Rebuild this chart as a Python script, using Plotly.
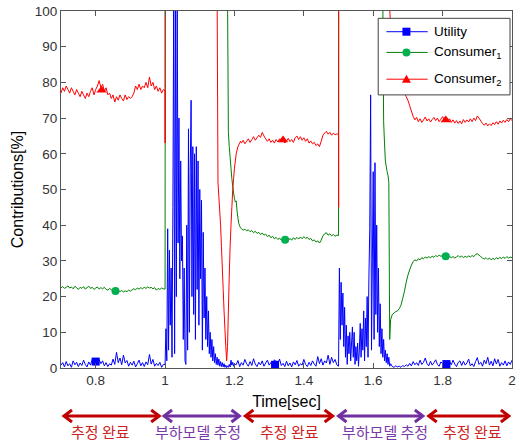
import numpy as np
import plotly.graph_objects as go

# ---------------- data ----------------
# Each series is stored as segments: (start time [s], sample step [s], values [%]).
# Values of 105 stand for "off the top of the 0-100 % scale".

# Utility
util_a_t0, util_a_dt = 0.700, 0.005
util_a = [0.8, 1.5, 0.3, 1.8, 0.6, 1.2, 0.2, 2.0, 0.9, 1.6,
          0.4, 1.4, 0.7, 2.2, 1.0, 0.3, 1.7, 0.8, 2.4, 1.1,
          2.6, 1.8, 2.3, 1.2, 2.0, 0.6, 1.5, 0.4, 1.2, 0.8,
          2.5, 1.0, 4.4, 1.5, 2.8, 0.9, 3.6, 1.4, 2.1, 0.5,
          1.6, 0.8, 1.9, 0.3, 1.2, 2.2, 0.6, 1.5, 0.4, 1.7,
          0.9, 3.8, 1.1, 2.4, 0.5, 1.3, 0.7, 1.6, 0.2, 1.0]
util_b_t0, util_b_dt = 1.000, 0.0025
util_b = [1.0, 11, 2, 39, 5, 33, 12, 28, 3, 45,
          105, 4, 105, 20, 105, 35, 70, 25, 58, 30,
          37, 8, 28, 2, 1, 40, 5, 67, 10, 55,
          75, 20, 62, 15, 60, 8, 62, 22, 58, 12,
          50, 25, 47, 5, 38, 14, 28, 8, 20, 6,
          16, 4, 10, 3, 8, 2, 6, 1.5, 4, 1,
          3, 0.8, 2.5, 0.5, 1.8, 0.4, 1.5, 0.3, 1.2, 0.2,
          0.8, 0.1, 0.6, 0.2, 1.0, 0.3, 2.2, 0.8, 1.6, 0.5, 1.2]
util_c_t0, util_c_dt = 1.205, 0.005
util_c = [0.9, 2.1, 0.4, 1.5, 0.8, 2.4, 1.2, 0.5, 1.8, 0.7,
          2.6, 1.1, 0.4, 1.6, 0.9, 2.0, 0.5, 1.4, 2.2, 0.8,
          1.5, 0.6, 2.3, 1.8, 1.2, 2.5, 0.7, 1.3, 0.4, 1.9,
          0.6, 1.4, 0.3, 1.7, 0.9, 2.1, 0.5, 1.2, 0.8, 2.4,
          1.0, 0.4, 1.6, 0.7, 2.0, 1.1, 0.5, 3.2, 1.2, 2.6,
          0.8, 2.0, 1.4, 3.6, 1.0, 3.0, 1.5, 2.4, 0.9]
util_d_t0, util_d_dt = 1.500, 0.0025
util_d = [0.5, 28, 8, 24, 12, 21, 6, 17, 3, 12,
          1, 9, 4, 10, 2, 7, 11.5, 3, 10, 1,
          6, 2, 7, 0.5, 5, 12.5, 3, 11, 5, 16,
          2, 14, 6, 20, 3, 25, 39, 76.5, 5, 30,
          55, 8, 57.5, 15, 40, 10, 28, 6, 18, 4,
          11, 3, 8, 2, 5, 1.5, 4, 1, 3, 0.5, 1.2]
util_e_t0, util_e_dt = 1.655, 0.005
util_e = [0.4, 0.2, 0.6, 0.3, 0.5, 0.2, 0.7, 0.4, 0.9, 0.5,
          1.3, 0.6, 1.8, 0.9, 1.5, 0.7, 2.2, 1.0, 1.6, 2.8,
          1.2, 0.6, 1.9, 0.8, 1.5, 2.3, 1.0, 0.5, 1.7, 1.2,
          2.0, 1.5, 0.7, 1.8, 0.9, 2.2, 1.1, 0.4, 1.6, 2.0,
          0.7, 1.9, 0.8, 1.4, 2.5, 0.6, 1.2, 0.4, 1.8, 2.9,
          1.0, 1.6, 0.5, 2.2, 1.2, 3.0, 0.8, 1.9, 0.6, 2.6,
          1.1, 2.4, 0.5, 1.5, 0.8, 2.0, 0.6, 1.7, 1.0, 2.2]

# Consumer 1
c1_a_t0, c1_a_dt = 0.700, 0.005
c1_a = [22.5, 22.8, 22.3, 22.6, 23.0, 22.4, 22.7, 22.2, 22.9, 22.5,
        22.0, 22.6, 22.3, 22.8, 22.1, 22.5, 22.9, 22.3, 22.6, 22.0,
        22.4, 22.7, 22.1, 22.5, 22.2, 22.6, 22.0, 21.8, 22.3, 21.9,
        21.6, 21.9, 21.5, 21.8, 21.4, 21.7, 21.3, 21.6, 21.4, 21.8,
        21.5, 21.9, 22.2, 21.9, 22.4, 22.1, 22.5, 22.2, 22.6, 22.3,
        22.7, 22.4, 22.6, 22.2, 22.5, 21.8, 22.3, 22.0, 22.4, 22.2]
c1_b_t0, c1_b_dt = 1.000, 0.0004
c1_b = [22.1, 105]
c1_c_t0, c1_c_dt = 1.180, 0.0025
c1_c = [105, 66, 62, 59, 56, 53, 51, 49, 47.5, 46.5, 46.8, 44, 42, 40.5, 39.8, 39.3]
c1_d_t0, c1_d_dt = 1.220, 0.005
c1_d = [39.0, 38.6, 38.9, 38.4, 38.7, 38.2, 38.5, 37.9, 38.3, 37.7,
        38.0, 37.4, 37.8, 37.2, 37.5, 36.8, 37.2, 36.5, 36.9, 36.2,
        36.6, 36.0, 36.4, 35.8, 36.2, 35.7, 36.1, 35.6, 36.3, 35.8,
        36.5, 36.0, 36.6, 36.1, 36.7, 36.2, 36.8, 36.3, 36.6, 36.0,
        36.3, 35.6, 35.9, 35.3, 35.6, 35.0, 35.8, 37.0, 37.6, 37.9,
        37.2, 37.6, 37.0, 37.4, 36.9, 37.2]
c1_e_t0, c1_e_dt = 1.500, 0.0004
c1_e = [37.1, 105]
c1_f_t0, c1_f_dt = 1.6275, 0.0025
c1_f = [105, 69, 63, 58, 56.5, 55, 54, 52, 8]
c1_g_t0, c1_g_dt = 1.650, 0.005
c1_g = [13.5, 15.0, 15.4, 15.8, 16.0, 16.6, 17.6, 19.5, 21.5, 24.0,
        26.0, 27.5, 28.8, 29.8, 30.3, 30.0, 30.6, 30.3, 30.9, 30.6,
        31.1, 30.8, 31.2, 30.9, 31.3, 31.0, 31.5, 31.2, 31.6, 31.3,
        31.5, 31.2, 31.4, 31.0, 31.3, 30.9, 31.2, 30.8, 31.1, 31.5,
        31.0, 31.4, 30.9, 31.3, 31.0, 31.4, 31.1, 31.5, 31.2, 31.8,
        32.0, 31.6, 31.2, 30.8, 30.5, 30.9, 30.4, 30.8, 30.3, 30.7,
        30.4, 30.9, 30.5, 31.0, 30.6, 31.1, 30.7, 31.2, 30.8, 31.1, 30.9]

# Consumer 2
c2_a_t0, c2_a_dt = 0.700, 0.005
c2_a = [77.0, 78.5, 77.5, 79.0, 78.0, 77.0, 78.5, 77.5, 76.5, 78.0,
        77.0, 76.0, 77.5, 76.5, 75.5, 77.0, 76.0, 77.5, 78.5, 76.5,
        78.0, 79.0, 80.5, 78.5, 79.5, 77.5, 78.5, 76.5, 77.0, 75.5,
        76.5, 74.5, 76.0, 75.0, 76.5, 75.5, 74.8, 76.5, 75.2, 76.0,
        75.5, 76.0, 77.0, 79.0, 78.0, 79.5, 78.0, 79.0, 78.5, 80.0,
        78.5, 81.5, 79.0, 80.0, 78.0, 79.0, 77.5, 78.5, 77.0, 78.0]
c2_b_t0, c2_b_dt = 1.000, 0.0002
c2_b = [77.6, 63, 105]
c2_c_t0, c2_c_dt = 1.150, 0.0025
c2_c = [105, 52, 48, 44, 40, 34, 28, 22, 16, 11,
        6, 2, 6, 16, 26, 34, 40, 45, 50, 53,
        56, 58, 60, 61, 62, 62.5, 63, 63.5]
c2_d_t0, c2_d_dt = 1.220, 0.005
c2_d = [63.0, 63.8, 62.8, 63.5, 64.2, 63.2, 64.0, 64.8, 63.8, 64.5,
        65.2, 64.6, 66.0, 65.0, 64.2, 63.5, 64.2, 63.2, 63.8, 63.0,
        64.0, 63.3, 64.2, 63.5, 63.8, 63.0, 63.6, 64.3, 63.4, 64.0,
        63.2, 64.5, 65.0, 64.0, 64.8, 63.8, 64.5, 63.5, 64.2, 63.0,
        63.6, 62.8, 63.2, 62.3, 62.8, 62.0, 63.5, 65.2, 65.8, 66.3,
        65.5, 66.0, 65.2, 65.8, 65.3, 65.6]
c2_e_t0, c2_e_dt = 1.500, 0.0002
c2_e = [65.4, 45, 105]
c2_f_t0, c2_f_dt = 1.645, 0.005
c2_f = [105, 96, 92, 89, 86, 84, 82, 80, 78.5, 77,
        76, 75, 73.5, 72, 70.5, 69.5, 70.2, 69.0, 69.8, 68.8,
        69.5, 70.3, 69.2, 69.8, 68.9, 69.6, 70.2, 69.3, 70.0, 69.0,
        69.7, 70.4, 69.5, 70.1, 69.2, 69.8, 68.8, 69.5, 68.6, 69.3,
        68.5, 69.2, 68.4, 69.6, 68.8, 69.5, 68.9, 69.8, 69.0, 70.0,
        69.3, 70.6, 70.0, 69.2, 68.5, 68.0, 68.6, 67.8, 68.4, 67.9,
        68.7, 68.2, 69.0, 68.3, 69.2, 68.6, 69.4, 68.8, 69.6, 69.0,
        69.8, 69.3]

# marker positions on the curves
util_mk_t = [0.800, 1.317, 1.811]
util_mk_v = [1.8, 0.9, 1.1]
c1_mk_t = [0.857, 1.346, 1.809]
c1_mk_v = [21.6, 35.9, 31.3]
c2_mk_t = [0.817, 1.340, 1.809]
c2_mk_v = [77.8, 63.9, 69.5]

series_names = ["Utility", "Consumer<sub>1</sub>", "Consumer<sub>2</sub>"]

x_tickvals = [0.8, 1.0, 1.2, 1.4, 1.6, 1.8, 2.0]
x_ticktext = ["0.8", "1", "1.2", "1.4", "1.6", "1.8", "2"]
y_tickvals = [0, 10, 20, 30, 40, 50, 60, 70, 80, 90, 100]

# phase bands under the axis (time extents of each double arrow)
phase_start = [0.7086, 0.997, 1.2314, 1.500, 1.760]
phase_end = [0.983, 1.2143, 1.483, 1.743, 1.991]
phase_label = ["추정 완료", "부하모델 추정", "추정 완료", "부하모델 추정", "추정 완료"]
phase_text_x = [0.813, 1.094, 1.359, 1.633, 1.886]
phase_kind = [0, 1, 0, 1, 0]


def build(segs):
    ts, vs = [], []
    for t0, dt, vals in segs:
        ts.extend(list(t0 + dt * np.arange(len(vals))))
        vs.extend(vals)
    return ts, vs


util_t, util_v = build([(util_a_t0, util_a_dt, util_a), (util_b_t0, util_b_dt, util_b),
                        (util_c_t0, util_c_dt, util_c), (util_d_t0, util_d_dt, util_d),
                        (util_e_t0, util_e_dt, util_e)])
c1_t, c1_v = build([(c1_a_t0, c1_a_dt, c1_a), (c1_b_t0, c1_b_dt, c1_b),
                    (c1_c_t0, c1_c_dt, c1_c), (c1_d_t0, c1_d_dt, c1_d),
                    (c1_e_t0, c1_e_dt, c1_e), (c1_f_t0, c1_f_dt, c1_f),
                    (c1_g_t0, c1_g_dt, c1_g)])
c2_t, c2_v = build([(c2_a_t0, c2_a_dt, c2_a), (c2_b_t0, c2_b_dt, c2_b),
                    (c2_c_t0, c2_c_dt, c2_c), (c2_d_t0, c2_d_dt, c2_d),
                    (c2_e_t0, c2_e_dt, c2_e), (c2_f_t0, c2_f_dt, c2_f)])

# ---------------- styles ----------------
line_colors = ["#0000ff", "#008000", "#ff0000"]
marker_colors = ["#0000ff", "#00b050", "#ff0000"]
marker_symbols = ["square", "circle", "triangle-up"]
marker_sizes = [8, 8, 9]
phase_colors = ["#c00000", "#7030a0"]
phase_text_colors = ["#cc2222", "#7a3aa8"]

fig = go.Figure()

lines = [(util_t, util_v), (c1_t, c1_v), (c2_t, c2_v)]
for i, (t, v) in enumerate(lines):
    fig.add_trace(go.Scatter(x=t, y=v, mode="lines",
                             line=dict(color=line_colors[i], width=1, simplify=False),
                             showlegend=False, hoverinfo="skip"))

marks = [(util_mk_t, util_mk_v), (c1_mk_t, c1_mk_v), (c2_mk_t, c2_mk_v)]
for i, (t, v) in enumerate(marks):
    fig.add_trace(go.Scatter(x=t, y=v, mode="markers",
                             marker=dict(color=marker_colors[i], symbol=marker_symbols[i],
                                         size=marker_sizes[i], line=dict(width=0)),
                             showlegend=False, hoverinfo="skip"))

shapes = []
annotations = []

# ---- legend (drawn box, sample lines, sample markers, labels), placed in axis units ----
leg_x0, leg_x1, leg_y0, leg_y1 = 1.6143, 1.9943, 76.5, 97.95
leg_line_x0, leg_line_x1, leg_mark_x, leg_text_x = 1.638, 1.757, 1.6957, 1.7686
leg_rows = [94.2, 88.4, 80.9]
shapes.append(dict(type="rect", xref="x", yref="y",
                   x0=leg_x0, x1=leg_x1, y0=leg_y0, y1=leg_y1,
                   fillcolor="white", line=dict(color="#404040", width=1), layer="above"))
marker_paths = ["M-4,-4H4V4H-4Z", None, "M-4.5,-3.5L4.5,-3.5L0,4.5Z"]
for i, yy in enumerate(leg_rows):
    shapes.append(dict(type="line", xref="x", yref="y", x0=leg_line_x0, x1=leg_line_x1,
                       y0=yy, y1=yy, line=dict(color=line_colors[i], width=1), layer="above"))
    common = dict(xref="x", yref="y", xsizemode="pixel", ysizemode="pixel",
                  xanchor=leg_mark_x, yanchor=yy, fillcolor=marker_colors[i],
                  line=dict(width=0), layer="above")
    if marker_paths[i] is None:
        shapes.append(dict(type="circle", x0=-4, x1=4, y0=-4, y1=4, **common))
    else:
        shapes.append(dict(type="path", path=marker_paths[i], **common))
    annotations.append(dict(x=leg_text_x, y=yy, xref="x", yref="y", text=series_names[i],
                            showarrow=False, xanchor="left", yanchor="middle",
                            font=dict(size=13.5, color="black")))

# ---- phase arrows and labels below the axis ----
arrow_y = -0.1345
for s, e, lab, tx, k in zip(phase_start, phase_end, phase_label, phase_text_x, phase_kind):
    col = phase_colors[k]
    shapes.append(dict(type="line", xref="x", yref="paper", x0=s, x1=e, y0=arrow_y, y1=arrow_y,
                       line=dict(color=col, width=3)))
    for anchor, path in ((e, "M-8,6L0,0L-8,-6"), (s, "M8,6L0,0L8,-6")):
        shapes.append(dict(type="path", xref="x", yref="paper", xsizemode="pixel",
                           ysizemode="pixel", xanchor=anchor, yanchor=arrow_y, path=path,
                           line=dict(color=col, width=3)))
    annotations.append(dict(x=tx, xref="x", y=-0.179, yref="paper", text=lab,
                            showarrow=False, xanchor="center", yanchor="middle",
                            font=dict(family="Noto Sans CJK KR", size=15,
                                      color=phase_text_colors[k])))

axis_common = dict(showline=True, linecolor="#555555", linewidth=1, mirror="ticks",
                   ticks="inside", ticklen=5, tickcolor="#555555", showgrid=False,
                   zeroline=False, tickfont=dict(size=13.5, color="#333333"))

fig.update_layout(
    width=520, height=443,
    margin=dict(l=61, r=4, t=11, b=75),
    paper_bgcolor="white", plot_bgcolor="white",
    font=dict(family="Liberation Sans, Arial, sans-serif", size=13.5, color="black"),
    xaxis=dict(range=[0.7, 2.0], tickvals=x_tickvals, ticktext=x_ticktext,
               title=dict(text="Time[sec]", font=dict(size=16, color="black"), standoff=8),
               **axis_common),
    yaxis=dict(range=[0, 100], tickvals=y_tickvals,
               title=dict(text="Contributions[%]", font=dict(size=16, color="black"), standoff=7),
               **axis_common),
    showlegend=False,
    shapes=shapes,
    annotations=annotations,
)

fig.write_html("out.html")
